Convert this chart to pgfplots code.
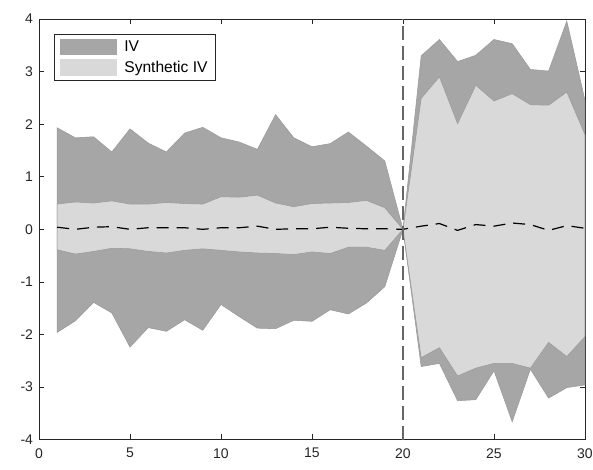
\documentclass[border=0pt]{standalone}
\usepackage{pgfplots}
\pgfplotsset{compat=1.18}
\usepackage{pgfplotstable}
\usepgfplotslibrary{fillbetween}
\usepackage{fontspec}
\setmainfont{Liberation Sans}
\definecolor{ivdark}{rgb}{0.65,0.65,0.65}
\definecolor{ivlight}{rgb}{0.85,0.85,0.85}
\definecolor{edgec}{rgb}{0.6,0.6,0.6}
\definecolor{axc}{rgb}{0.15,0.15,0.15}
\pgfplotstableread{
x ivup synup mean synlo ivlo
1 1.93 0.48 0.04 -0.39 -1.96
2 1.74 0.52 0.00 -0.47 -1.74
3 1.76 0.50 0.04 -0.42 -1.39
4 1.47 0.54 0.05 -0.36 -1.59
5 1.91 0.48 0.00 -0.37 -2.24
6 1.64 0.48 0.03 -0.42 -1.87
7 1.47 0.51 0.03 -0.45 -1.94
8 1.83 0.49 0.03 -0.40 -1.72
9 1.94 0.48 0.00 -0.37 -1.92
10 1.74 0.62 0.03 -0.40 -1.43
11 1.66 0.61 0.03 -0.43 -1.66
12 1.52 0.65 0.06 -0.45 -1.88
13 2.18 0.50 0.00 -0.46 -1.89
14 1.74 0.43 0.01 -0.48 -1.73
15 1.57 0.49 0.01 -0.43 -1.75
16 1.63 0.50 0.04 -0.46 -1.53
17 1.85 0.51 0.02 -0.34 -1.61
18 1.58 0.55 0.01 -0.34 -1.40
19 1.30 0.41 0.01 -0.40 -1.09
20 0 0 0 0 0
21 3.30 2.49 0.06 -2.44 -2.61
22 3.61 2.90 0.11 -2.25 -2.55
23 3.19 2.01 -0.02 -2.79 -3.26
24 3.31 2.74 0.09 -2.64 -3.24
25 3.61 2.44 0.06 -2.55 -2.69
26 3.53 2.58 0.12 -2.55 -3.66
27 3.04 2.37 0.09 -2.64 -2.66
28 3.01 2.36 -0.02 -2.15 -3.21
29 3.96 2.61 0.07 -2.42 -3.01
30 2.45 1.80 0.02 -2.04 -2.96
}\datatable
\begin{document}
\begin{tikzpicture}
\begin{axis}[
  scale only axis,
  width=409.5pt, height=315.5pt,
  xmin=0, xmax=30, ymin=-4, ymax=4,
  xtick={0,5,...,30}, ytick={-4,-3,...,4},
  tick align=inside,
  major tick length=4pt,
  axis line style={axc, line width=0.5pt},
  every tick/.style={axc, line width=0.5pt},
  tick label style={font=\fontsize{10.5}{12}\selectfont, text=axc},
  /pgf/number format/assume math mode=true,
  yticklabel style={xshift=-1pt},
  xticklabel style={yshift=-3pt},
  legend style={at={(0.0275,0.965)}, anchor=north west, draw=axc, line width=0.5pt,
    font=\fontsize{11.7}{13.5}\selectfont, inner xsep=4pt, inner ysep=3pt,
    row sep=1.5pt, cells={anchor=west}},
  legend cell align=left,
]
\addlegendimage{legend image code/.code={\fill[ivdark] (0pt,-5.8pt) rectangle (42pt,5.8pt); \path (46pt,0pt);}}
\addlegendentry{IV}
\addlegendimage{legend image code/.code={\fill[ivlight] (0pt,-5.8pt) rectangle (42pt,5.8pt); \path (46pt,0pt);}}
\addlegendentry{Synthetic IV}
\addplot[name path=ivu, draw=none, forget plot] table[x=x, y=ivup] {\datatable};
\addplot[name path=ivl, draw=none, forget plot] table[x=x, y=ivlo] {\datatable};
\addplot[fill=ivdark, draw=edgec, line width=0.4pt, forget plot] fill between[of=ivu and ivl];
\addplot[name path=snu, draw=none, forget plot] table[x=x, y=synup] {\datatable};
\addplot[name path=snl, draw=none, forget plot] table[x=x, y=synlo] {\datatable};
\addplot[fill=ivlight, draw=edgec, line width=0.4pt, forget plot] fill between[of=snu and snl];
\addplot[black, line width=0.9pt, dash pattern=on 9pt off 6pt, forget plot] table[x=x, y=mean] {\datatable};
\addplot[black!60, line width=0.8pt, dash pattern=on 10pt off 5pt, forget plot] coordinates {(20,-4) (20,4)};
\end{axis}
\pgfresetboundingbox
\path ([shift={(-29.25pt,-22.5pt)}]current axis.south west) rectangle ([shift={(6pt,14.25pt)}]current axis.north east);
\end{tikzpicture}
\end{document}
